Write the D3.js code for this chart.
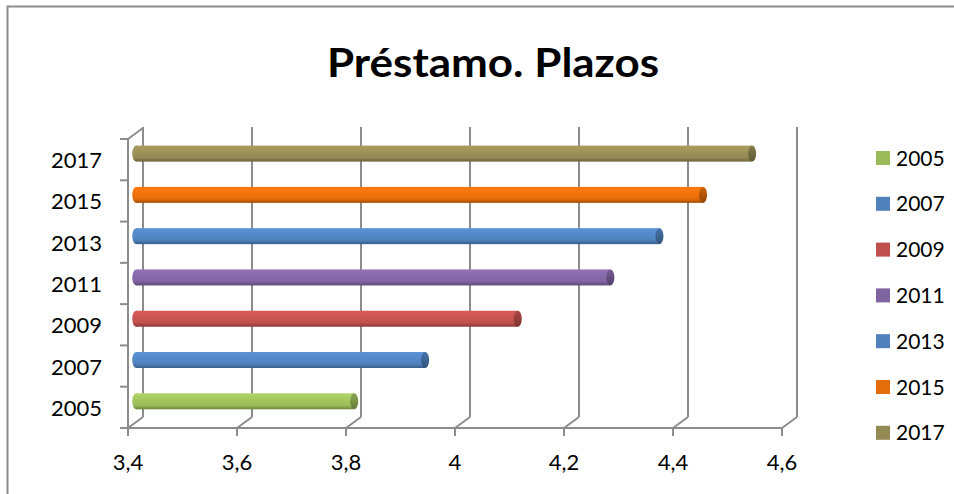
<!DOCTYPE html>
<html>
<head>
<meta charset="utf-8">
<script src="https://cdn.jsdelivr.net/npm/d3@7"></script>
<style>
  body { margin: 0; background: #fff; }
  svg { display: block; font-family: Lato, "Open Sans", sans-serif; }
</style>
</head>
<body>
<script>
var w = 954, h = 494;

// data
var years = ["2005", "2007", "2009", "2011", "2013", "2015", "2017"];
var values = [3.80, 3.93, 4.10, 4.27, 4.36, 4.44, 4.53];
var colours = ["#9BBB59", "#4F81BD", "#C0504D", "#8064A2", "#4F81BD", "#E46C0A", "#948A54"];
var ticks = [3.4, 3.6, 3.8, 4.0, 4.2, 4.4, 4.6];

var depth = { x: 15, y: -11 };   // 3d offset front -> back wall
var barDepth = 0.55;
var grid = "#8c8c8c";

var x = d3.scaleLinear().domain([3.4, 4.6]).range([128, 782]);
var y = d3.scaleBand().domain(years).range([428, 139]);
var fmt = function(d){ return String(+d.toFixed(1)).replace(".", ","); };

var svg = d3.select("body").append("svg")
            .attr("width", w)
            .attr("height", h);

// chart border
svg.append("rect")
    .attr("x", 7.5).attr("y", 6.5)
    .attr("width", 1000).attr("height", 600)
    .attr("fill", "none")
    .attr("stroke", grid)
    .attr("stroke-width", 2);

svg.append("text")
    .attr("x", 493).attr("y", 77)
    .attr("text-anchor", "middle")
    .attr("font-size", 41)
    .attr("font-weight", "bold")
    .attr("textLength", 332)
    .attr("lengthAdjust", "spacingAndGlyphs")
    .text("Préstamo. Plazos");

var defs = svg.append("defs");
colours.forEach(function(c, i){
    var g = defs.append("linearGradient")
        .attr("id", "cyl" + i)
        .attr("x1", 0).attr("y1", 0).attr("x2", 0).attr("y2", 1);
    var base = d3.color(c);
    g.append("stop").attr("offset", "0%").attr("stop-color", base.brighter(0.35));
    g.append("stop").attr("offset", "35%").attr("stop-color", base.brighter(0.2));
    g.append("stop").attr("offset", "75%").attr("stop-color", base);
    g.append("stop").attr("offset", "100%").attr("stop-color", base.darker(0.9));
    var e = defs.append("linearGradient")
        .attr("id", "cap" + i)
        .attr("x1", 0).attr("y1", 0).attr("x2", 0).attr("y2", 1);
    e.append("stop").attr("offset", "0%").attr("stop-color", base.darker(0.3));
    e.append("stop").attr("offset", "100%").attr("stop-color", base.darker(1.2));
});

var axes = svg.append("g")
    .attr("fill", "none")
    .attr("stroke", grid)
    .attr("stroke-width", 2);

// back wall gridlines
axes.selectAll(".grid")
    .data(ticks)
    .enter()
    .append("line")
    .attr("x1", function(d){ return x(d) + depth.x; })
    .attr("x2", function(d){ return x(d) + depth.x; })
    .attr("y1", y.range()[1] + depth.y - 1)
    .attr("y2", y.range()[0] + depth.y);

// floor: front edge, diagonals and ticks
axes.append("line")
    .attr("x1", x(3.4)).attr("x2", x(4.6))
    .attr("y1", y.range()[0]).attr("y2", y.range()[0]);
axes.selectAll(".diag")
    .data(ticks)
    .enter()
    .append("line")
    .attr("x1", function(d){ return x(d); })
    .attr("x2", function(d){ return x(d) + depth.x; })
    .attr("y1", y.range()[0])
    .attr("y2", y.range()[0] + depth.y);
axes.selectAll(".xt")
    .data(ticks)
    .enter()
    .append("line")
    .attr("x1", function(d){ return x(d); })
    .attr("x2", function(d){ return x(d); })
    .attr("y1", y.range()[0])
    .attr("y2", y.range()[0] + 8);

// left wall
axes.append("line")
    .attr("x1", x(3.4)).attr("x2", x(3.4))
    .attr("y1", y.range()[1]).attr("y2", y.range()[0]);
axes.append("line")
    .attr("x1", x(3.4)).attr("x2", x(3.4) + depth.x)
    .attr("y1", y.range()[1]).attr("y2", y.range()[1] + depth.y);
var yTicks = years.map(function(d){ return y(d); }).concat([y.range()[0]]);
axes.selectAll(".yt")
    .data(yTicks)
    .enter()
    .append("line")
    .attr("x1", x(3.4) - 8)
    .attr("x2", x(3.4))
    .attr("y1", function(d){ return d; })
    .attr("y2", function(d){ return d; });

// bars as cylinders
var bh = 16, rx = 4;
var ox = depth.x * barDepth, oy = depth.y * barDepth;
var bars = svg.selectAll(".bar")
    .data(years)
    .enter()
    .append("g")
    .attr("class", "bar");
bars.append("ellipse")
    .attr("cx", x(3.4) + ox)
    .attr("cy", function(d){ return y(d) + y.bandwidth() / 2 + oy; })
    .attr("rx", rx).attr("ry", bh / 2)
    .attr("fill", function(d, i){ return "url(#cyl" + i + ")"; });
bars.append("rect")
    .attr("x", x(3.4) + ox)
    .attr("y", function(d){ return y(d) + y.bandwidth() / 2 + oy - bh / 2; })
    .attr("width", function(d, i){ return x(values[i]) - x(3.4); })
    .attr("height", bh)
    .attr("fill", function(d, i){ return "url(#cyl" + i + ")"; });
bars.append("ellipse")
    .attr("cx", function(d, i){ return x(values[i]) + ox; })
    .attr("cy", function(d){ return y(d) + y.bandwidth() / 2 + oy; })
    .attr("rx", rx).attr("ry", bh / 2)
    .attr("fill", function(d, i){ return "url(#cap" + i + ")"; });

// back wall left edge drawn over bar starts
axes.append("line")
    .attr("x1", x(3.4) + depth.x).attr("x2", x(3.4) + depth.x)
    .attr("y1", y.range()[1] + depth.y).attr("y2", y.range()[1] + depth.y + 22)
    .attr("stroke-width", 2);

// axis labels
svg.selectAll(".ylab")
    .data(years)
    .enter()
    .append("text")
    .attr("x", 102)
    .attr("y", function(d){ return y(d) + y.bandwidth() / 2 + 8.5; })
    .attr("text-anchor", "end")
    .attr("font-size", 22)
    .text(function(d){ return d; });

svg.selectAll(".xlab")
    .data(ticks)
    .enter()
    .append("text")
    .attr("x", function(d){ return x(d); })
    .attr("y", 470)
    .attr("text-anchor", "middle")
    .attr("font-size", 22)
    .text(fmt);

// legend
var leg = svg.selectAll(".leg")
    .data(years)
    .enter()
    .append("g")
    .attr("transform", function(d, i){ return "translate(876," + (158 + i * 45.8) + ")"; });
leg.append("rect")
    .attr("x", 0).attr("y", -7)
    .attr("width", 14).attr("height", 14)
    .attr("fill", function(d, i){ return colours[i]; });
leg.append("text")
    .attr("x", 20).attr("y", 7.5)
    .attr("font-size", 21)
    .text(function(d){ return d; });
</script>
</body>
</html>
